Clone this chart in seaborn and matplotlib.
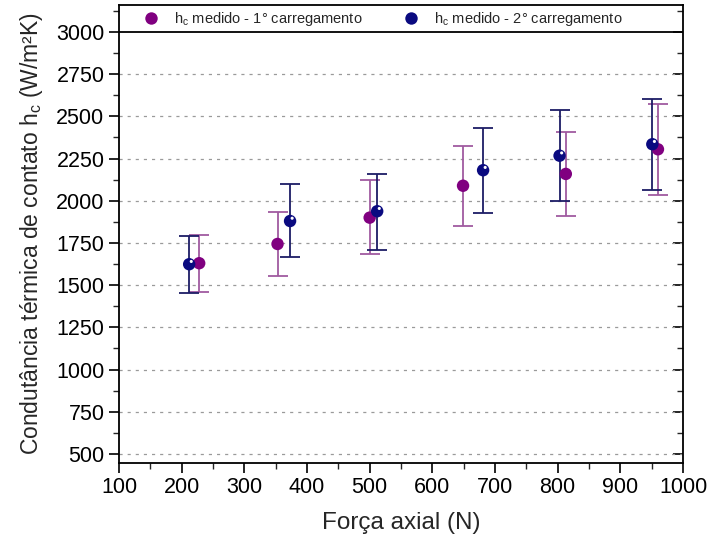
import matplotlib
matplotlib.use("Agg")
import matplotlib.pyplot as plt
import matplotlib.transforms as mtransforms
import seaborn as sns
import pandas as pd
from matplotlib.ticker import MultipleLocator

# data
forca_1 = [228, 353, 500, 649, 813, 960]
hc_1 = [1630, 1744, 1900, 2089, 2159, 2305]
hc_1_low = [1462, 1554, 1683, 1853, 1908, 2034]
hc_1_high = [1797, 1935, 2123, 2326, 2409, 2575]

forca_2 = [212, 373, 512, 681, 803, 951]
hc_2 = [1624, 1880, 1938, 2181, 2267, 2335]
hc_2_low = [1452, 1665, 1710, 1928, 2000, 2062]
hc_2_high = [1791, 2098, 2161, 2433, 2536, 2605]

lab_1 = "h$_\\mathregular{c}$ medido - 1° carregamento"
lab_2 = "h$_\\mathregular{c}$ medido - 2° carregamento"

df = pd.DataFrame({
    "Forca": forca_1 + forca_2,
    "hc": hc_1 + hc_2,
    "low": hc_1_low + hc_2_low,
    "high": hc_1_high + hc_2_high,
    "Serie": [lab_1] * len(forca_1) + [lab_2] * len(forca_2),
})

sns.set_style("ticks")
plt.rcParams["font.family"] = ["Liberation Sans", "DejaVu Sans"]
plt.rcParams["mathtext.fontset"] = "custom"
plt.rcParams["mathtext.rm"] = "Liberation Sans"

fig = plt.figure(figsize=(7.12, 5.47), dpi=100)
ax = fig.add_axes([0.1671, 0.1541, 0.7922, 0.8368])

colors = {lab_1: "#800080", lab_2: "#0a0a80"}
bar_colors = {lab_1: "#a05aa0", lab_2: "#1c1c66"}

# error bars first
for serie, g in df.groupby("Serie", sort=False):
    ax.errorbar(g["Forca"], g["hc"],
                yerr=[g["hc"] - g["low"], g["high"] - g["hc"]],
                fmt="none", ecolor=bar_colors[serie], elinewidth=1.3,
                capsize=7, capthick=1.3, zorder=2)

sns.scatterplot(data=df, x="Forca", y="hc", hue="Serie", palette=colors,
                s=80, edgecolor="none", ax=ax, zorder=3, legend=True)

# little highlight on the dark blue spheres
shine = mtransforms.offset_copy(ax.transData, fig=fig, x=1.5, y=2, units="points")
ax.scatter(forca_2, hc_2, s=5, color="white", edgecolor="none", zorder=4,
           transform=shine)

ax.set_xlim(100, 1000)
ax.set_ylim(448, 3160)
ax.xaxis.set_major_locator(MultipleLocator(100))
ax.xaxis.set_minor_locator(MultipleLocator(50))
ax.set_yticks(range(500, 3001, 250))
ax.yaxis.set_minor_locator(MultipleLocator(125))

for y in range(500, 3000, 250):
    ax.axhline(y, color="#9a9a9a", lw=0.9, ls=(0, (2.5, 4)), zorder=1)
ax.axhline(3000, color="black", lw=1.3, zorder=4)

ax.tick_params(axis="both", which="major", direction="out", length=7,
               width=1.2, labelsize=15.5, colors="black")
ax.tick_params(axis="both", which="minor", direction="out", length=4,
               width=1.0)
ax.tick_params(axis="y", which="both", right=True, labelright=False)
ax.tick_params(axis="x", which="both", top=False)
for t in ax.yaxis.get_ticklines(minor=False)[1::2]:
    t.set_marker(matplotlib.markers.TICKLEFT)
for t in ax.yaxis.get_ticklines(minor=True)[1::2]:
    t.set_marker(matplotlib.markers.TICKLEFT)

for sp in ax.spines.values():
    sp.set_linewidth(1.3)
    sp.set_color("black")

ax.set_xlabel("Força axial (N)", fontsize=17.5, labelpad=10)
ax.set_ylabel("Condutância térmica de contato h$_\\mathregular{c}$ (W/m²K)",
              fontsize=16.5, labelpad=8)

handles, labels = ax.get_legend_handles_labels()
ax.legend(handles, labels, loc="center left", ncol=2, frameon=False,
          bbox_to_anchor=(0.02, 0.97), fontsize=10.5, handletextpad=0.6,
          columnspacing=2.3, markerscale=1.0, borderaxespad=0)

fig.savefig("out.png", dpi=100)
